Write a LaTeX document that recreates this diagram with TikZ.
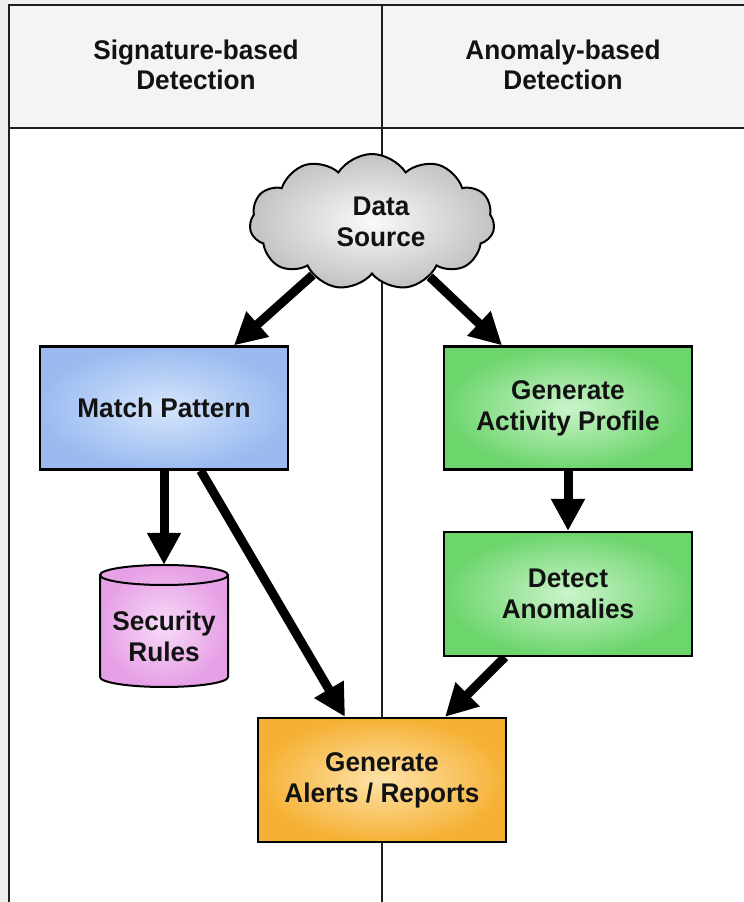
\documentclass[tikz,border=0pt]{standalone}
\usepackage{fontspec}
\setmainfont{Liberation Sans}
\newfontfamily\nodefont[FakeStretch=0.97]{Liberation Sans}
\usetikzlibrary{shapes.symbols,arrows.meta}

\definecolor{pagegray}{HTML}{EFEFEF}
\definecolor{headgray}{HTML}{F4F4F4}
\definecolor{framecol}{HTML}{1E1E1E}
\definecolor{txt}{HTML}{121212}
\definecolor{blueout}{HTML}{9BBBF0}
\definecolor{bluein}{HTML}{D6E5FC}
\definecolor{greenout}{HTML}{6CD56C}
\definecolor{greenin}{HTML}{CBF4CB}
\definecolor{orangeout}{HTML}{F6B135}
\definecolor{orangein}{HTML}{FDE3AA}
\definecolor{pinkout}{HTML}{E6A0E6}
\definecolor{pinkin}{HTML}{F7DAF7}
\definecolor{cloudout}{HTML}{C2C2C2}
\definecolor{cloudin}{HTML}{FAFAFA}

\pgfdeclarelayer{bg}
\pgfdeclarelayer{links}
\pgfsetlayers{bg,links,main}

\begin{document}
\begin{tikzpicture}[x=1pt,y=1pt,
  frame/.style={draw=framecol, line width=2.8pt},
  boxtext/.style={align=center, text=txt,
    font=\nodefont\bfseries\fontsize{27}{31}\selectfont},
  headtext/.style={boxtext, font=\nodefont\bfseries\fontsize{27}{30}\selectfont},
  stepbox/.style={boxtext, draw=black, line width=2.2pt, inner sep=0pt,
    minimum width=248pt, minimum height=123pt, shading=radial},
  flow/.style={draw=black, line width=9pt,
    -{Triangle[length=32pt,width=32pt]}}]

\useasboundingbox (0,0) rectangle (744,902);

% swimlane frame
\begin{pgfonlayer}{bg}
  \fill[pagegray] (0,0) rectangle (744,902);
  \fill[white] (9,-10) rectangle (760,897);
  \fill[headgray] (9,774) rectangle (760,897);
  \draw[frame] (9,-10) -- (9,897) -- (760,897);
  \draw[frame] (9,774) -- (760,774);
  \draw[frame] (382,-10) -- (382,897);
\end{pgfonlayer}

\node[headtext] (h1) at (196,837) {Signature-based\\Detection};
\node[headtext] (h2) at (563,837) {Anomaly-based\\Detection};

% data source
\node[cloud, cloud puffs=11, cloud puff arc=115, aspect=1.8,
      minimum width=245pt, minimum height=136pt, inner sep=0pt,
      draw=black, line width=2pt, shading=radial,
      inner color=cloudin, outer color=cloudout]
  (src) at (372,680) {};
\node[boxtext] (srclabel) at (381,680) {Data\\Source};

% process boxes
\node[stepbox, inner color=bluein, outer color=blueout]
  (mp) at (164,494) {Match Pattern};
\node[stepbox, inner color=greenin, outer color=greenout]
  (gap) at (568,494) {Generate\\Activity Profile};
\node[stepbox, inner color=greenin, outer color=greenout,
      minimum height=124pt]
  (da) at (568,308) {Detect\\Anomalies};
\node[stepbox, inner color=orangein, outer color=orangeout,
      minimum height=124pt]
  (alr) at (382,122) {Generate\\Alerts / Reports};

% security rules store
\shade[inner color=pinkin, outer color=pinkout, draw=black, line width=2pt]
  (100,327) -- (100,225)
  arc[start angle=180, end angle=360, x radius=64, y radius=10]
  -- (228,327)
  arc[start angle=0, end angle=180, x radius=64, y radius=10] -- cycle;
\draw[black, line width=2pt]
  (100,327) arc[start angle=180, end angle=360, x radius=64, y radius=10];
\node[minimum width=128pt, minimum height=122pt, inner sep=0pt]
  (sr) at (164,276) {};
\node[boxtext] (srtext) at (164,266) {Security\\Rules};

% connectors
\begin{pgfonlayer}{links}
  \draw[flow] (src) -- (mp);
  \draw[flow] (src) -- (gap);
  \draw[flow] (mp) -- (sr);
  \draw[flow] (mp) -- (alr);
  \draw[flow] (gap) -- (da);
  \draw[flow] (da) -- (alr);
\end{pgfonlayer}
\end{tikzpicture}
\end{document}
